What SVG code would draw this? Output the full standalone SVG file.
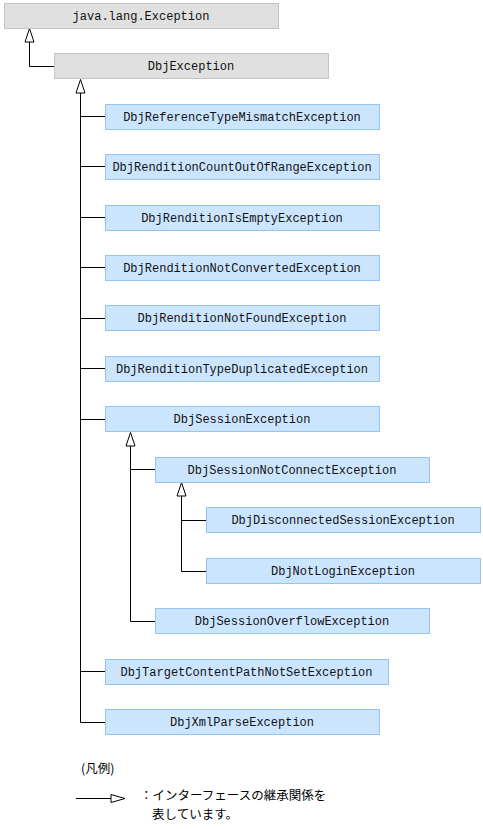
<svg xmlns="http://www.w3.org/2000/svg" width="483" height="829" viewBox="0 0 483 829">
<style>
.g{fill:#e0e0e0;stroke:#c4c4c4;stroke-width:1}
.b{fill:#cce5ff;stroke:#92c5f5;stroke-width:1}
.t{font-family:"Liberation Mono",monospace;font-size:12px;fill:#111;text-anchor:middle}
.c{fill:none;stroke:#000;stroke-width:1}
.a{fill:#fff;stroke:#000;stroke-width:1}
.j{font-family:"Noto Sans CJK JP",sans-serif;font-size:12.5px;fill:#000}
</style>
<rect width="483" height="829" fill="#fff"/>
<g id="connectors">
<path class="c" d="M29.5 42V66.5H55"/>
<path class="a" d="M29.5 28.5L25 42H34Z"/>
<path class="c" d="M80.5 93V722.5H105M80.5 116.5H105M80.5 166.5H105M80.5 217.5H105M80.5 267.5H105M80.5 318.5H105M80.5 368.5H105M80.5 419.5H105M80.5 671.5H105"/>
<path class="a" d="M80.5 79.5L76 93H85Z"/>
<path class="c" d="M130.5 446V621.5H155M130.5 469.5H155"/>
<path class="a" d="M130.5 432.5L126 446H135Z"/>
<path class="c" d="M181.5 496V571.5H206M181.5 520.5H206"/>
<path class="a" d="M181.5 482.5L177 496H186Z"/>
</g>
<g id="n0"><rect class="g" x="4.5" y="3.5" width="274" height="25"/><text class="t" x="141" y="20">java.lang.Exception</text></g>
<g id="n1"><rect class="g" x="54.5" y="53.5" width="274" height="25"/><text class="t" x="191" y="70">DbjException</text></g>
<g id="n2"><rect class="b" x="105.5" y="104.5" width="274" height="25"/><text class="t" x="242" y="121">DbjReferenceTypeMismatchException</text></g>
<g id="n3"><rect class="b" x="105.5" y="154.5" width="274" height="25"/><text class="t" x="242" y="171">DbjRenditionCountOutOfRangeException</text></g>
<g id="n4"><rect class="b" x="105.5" y="205.5" width="274" height="25"/><text class="t" x="242" y="222">DbjRenditionIsEmptyException</text></g>
<g id="n5"><rect class="b" x="105.5" y="255.5" width="274" height="25"/><text class="t" x="242" y="272">DbjRenditionNotConvertedException</text></g>
<g id="n6"><rect class="b" x="105.5" y="305.5" width="274" height="25"/><text class="t" x="242" y="322">DbjRenditionNotFoundException</text></g>
<g id="n7"><rect class="b" x="105.5" y="356.5" width="274" height="25"/><text class="t" x="242" y="373">DbjRenditionTypeDuplicatedException</text></g>
<g id="n8"><rect class="b" x="105.5" y="406.5" width="274" height="25"/><text class="t" x="242" y="423">DbjSessionException</text></g>
<g id="n9"><rect class="b" x="155.5" y="457.5" width="274" height="25"/><text class="t" x="292" y="474">DbjSessionNotConnectException</text></g>
<g id="n10"><rect class="b" x="206.5" y="507.5" width="274" height="25"/><text class="t" x="343" y="524">DbjDisconnectedSessionException</text></g>
<g id="n11"><rect class="b" x="206.5" y="558.5" width="274" height="25"/><text class="t" x="343" y="575">DbjNotLoginException</text></g>
<g id="n12"><rect class="b" x="155.5" y="608.5" width="274" height="25"/><text class="t" x="292" y="625">DbjSessionOverflowException</text></g>
<g id="n13"><rect class="b" x="105.5" y="659.5" width="283" height="25"/><text class="t" x="246.5" y="676">DbjTargetContentPathNotSetException</text></g>
<g id="n14"><rect class="b" x="105.5" y="709.5" width="274" height="25"/><text class="t" x="242" y="726">DbjXmlParseException</text></g>
<g id="legend">
<text class="j" x="81" y="773">(凡例)</text>
<path class="c" d="M76 798.5H111"/>
<path class="a" d="M111 794.5L125 798.5L111 802.5Z"/>
<text class="j" x="140" y="800">：インターフェースの継承関係を</text>
<text class="j" x="152" y="819">表しています。</text>
</g>
</svg>
